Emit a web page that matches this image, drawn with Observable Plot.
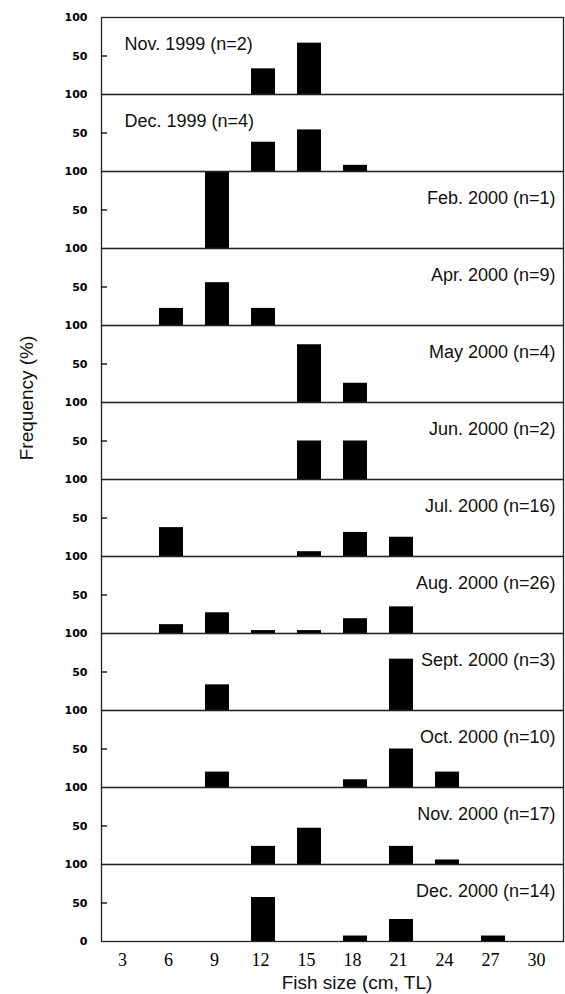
<!DOCTYPE html>
<html>
<head>
<meta charset="utf-8">
<script src="https://cdn.jsdelivr.net/npm/d3@7"></script>
<script src="https://cdn.jsdelivr.net/npm/@observablehq/plot@0.6"></script>
<style>
  html, body { margin: 0; padding: 0; background: white; }
</style>
</head>
<body>
<div id="chart"></div>
<script>
// Sampling months and sample sizes
const months = ["Nov. 1999", "Dec. 1999", "Feb. 2000", "Apr. 2000", "May 2000", "Jun. 2000",
                "Jul. 2000", "Aug. 2000", "Sept. 2000", "Oct. 2000", "Nov. 2000", "Dec. 2000"];
const sampleSizes = [2, 4, 1, 9, 4, 2, 16, 26, 3, 10, 17, 14];

// Fish size classes (cm, TL)
const sizeClasses = [3, 6, 9, 12, 15, 18, 21, 24, 27, 30];

// Frequency (%) per size class, one array per month
const freqNov1999 = [0, 0, 0, 33.3, 66.7, 0, 0, 0, 0, 0];
const freqDec1999 = [0, 0, 0, 38, 54, 8, 0, 0, 0, 0];
const freqFeb2000 = [0, 0, 100, 0, 0, 0, 0, 0, 0, 0];
const freqApr2000 = [0, 22.2, 55.6, 22.2, 0, 0, 0, 0, 0, 0];
const freqMay2000 = [0, 0, 0, 0, 75, 25, 0, 0, 0, 0];
const freqJun2000 = [0, 0, 0, 0, 50, 50, 0, 0, 0, 0];
const freqJul2000 = [0, 37.5, 0, 0, 6.25, 31.25, 25, 0, 0, 0];
const freqAug2000 = [0, 11.5, 26.9, 3.8, 3.8, 19.2, 34.6, 0, 0, 0];
const freqSep2000 = [0, 0, 33.3, 0, 0, 0, 66.7, 0, 0, 0];
const freqOct2000 = [0, 0, 20, 0, 0, 10, 50, 20, 0, 0];
const freqNov2000 = [0, 0, 0, 23.5, 47.1, 0, 23.5, 5.9, 0, 0];
const freqDec2000 = [0, 0, 0, 57.1, 0, 7.1, 28.6, 0, 7.1, 0];

const freqByMonth = [freqNov1999, freqDec1999, freqFeb2000, freqApr2000, freqMay2000, freqJun2000,
                     freqJul2000, freqAug2000, freqSep2000, freqOct2000, freqNov2000, freqDec2000];

const rows = [];
months.forEach((m, i) => {
  freqByMonth[i].forEach((v, j) => {
    if (v > 0) rows.push({month: m, size: sizeClasses[j], pct: v});
  });
});

const labels = months.map((m, i) => ({month: m, label: `${m} (n=${sampleSizes[i]})`, idx: i}));
const labelsLeft = labels.filter(d => d.idx < 2);
const labelsRight = labels.filter(d => d.idx >= 2);

const yLabelStyle = {tickSize: 0, tickPadding: 14, fontSize: 11, fontFamily: "DejaVu Sans", fontWeight: "bold", label: null};

const plot = Plot.plot({
  width: 565,
  height: 994,
  marginTop: 15,
  marginBottom: 51,
  marginLeft: 101,
  marginRight: 2,
  x: {type: "band", domain: sizeClasses, paddingInner: 0.48, paddingOuter: 0.25, label: null},
  y: {domain: [0, 100], label: null},
  fy: {domain: months, padding: 0, axis: null, label: null},
  style: {fontFamily: "Liberation Sans", background: "white", color: "black"},
  marks: [
    Plot.barY(rows, {x: "size", y: "pct", fy: "month", fill: "black"}),
    Plot.frame({stroke: "#222", strokeWidth: 1.3}),
    Plot.axisY({ticks: [50, 100], ...yLabelStyle}),
    Plot.axisY({ticks: [0], facetAnchor: "bottom", ...yLabelStyle}),
    Plot.axisY({ticks: [50], tickSize: 6, text: null, dx: 6, strokeWidth: 1.3, label: null}),
    Plot.axisX({tickSize: 0, tickPadding: 12, fontSize: 18, fontFamily: "Liberation Serif", dx: -3, label: null}),
    Plot.text(labelsLeft, {fy: "month", text: "label", frameAnchor: "top-left", dx: 23, dy: 27,
                           lineAnchor: "middle", fontSize: 18, fill: "#111"}),
    Plot.text(labelsRight, {fy: "month", text: "label", frameAnchor: "top-right", dx: -8, dy: 27,
                            lineAnchor: "middle", fontSize: 18, fill: "#111"})
  ]
});

const svg = d3.select(plot);
svg.append("text")
  .attr("transform", "translate(33,398) rotate(-90)")
  .attr("text-anchor", "middle")
  .attr("font-family", "Liberation Sans")
  .attr("font-size", 19)
  .attr("fill", "#111")
  .text("Frequency (%)");
svg.append("text")
  .attr("x", 357)
  .attr("y", 989)
  .attr("text-anchor", "middle")
  .attr("font-family", "Liberation Sans")
  .attr("font-size", 19)
  .attr("fill", "#111")
  .text("Fish size (cm, TL)");

document.getElementById("chart").appendChild(plot);
</script>
</body>
</html>
